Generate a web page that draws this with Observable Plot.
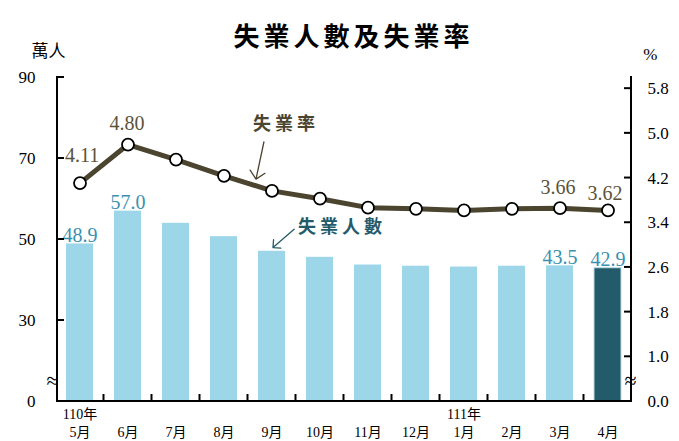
<!DOCTYPE html>
<html><head><meta charset="utf-8">
<script src="https://cdn.jsdelivr.net/npm/d3@7"></script>
<script src="https://cdn.jsdelivr.net/npm/@observablehq/plot@0.6"></script>
<style>
body{margin:0;background:#fff;}
#wrap{position:relative;width:679px;height:441px;}
#wrap svg{position:absolute;left:0;top:0;}
.spaced text{letter-spacing:4px;}
</style></head><body><div id="wrap"></div>
<script>
const months = ["5月","6月","7月","8月","9月","10月","11月","12月","1月","2月","3月","4月"];
const unemployed = [48.9,57.0,54.0,50.7,47.1,45.6,43.7,43.4,43.2,43.4,43.5,42.9];
const rate = [4.11,4.80,4.53,4.24,3.97,3.83,3.67,3.65,3.62,3.65,3.66,3.62];
const years = [{month:"5月", label:"110年"},{month:"1月", label:"111年"}];
const leftTicks = [10,30,50,70,90];
const leftTickLabels = ["0","30","50","70","90"];
const rightTicks = [0.2,1.0,1.8,2.6,3.4,4.2,5.0,5.8];
const rightTickLabels = ["0.0","1.0","1.8","2.6","3.4","4.2","5.0","5.8"];
const barLabelMonths = ["5月","6月","3月","4月"];
const title = "失業人數及失業率";

const rows = months.map((m,i)=>({month:m, unemployed:unemployed[i], rate:rate[i]}));
const last = months[months.length-1];

const FONT = '"Liberation Serif","Noto Sans CJK TC",serif';
const CJK = '"Noto Sans CJK TC",sans-serif';
const LIGHT = "#9dd6e8", DARK = "#245b6b", BARLAB = "#3b90ae";
const LINE = "#4b4530", RATELAB = "#5b5339";

const common = {
  width:679, height:441, marginLeft:57, marginRight:48, marginTop:77, marginBottom:40,
  x:{type:"band", domain:months, paddingInner:0.43, paddingOuter:0.19, axis:null},
  style:{fontFamily:FONT, fontSize:"17px", background:"transparent", overflow:"visible", color:"black"}
};

const p1 = Plot.plot({
  ...common,
  y:{domain:[10,90], axis:null},
  marks:[
    Plot.barY(rows.filter(d=>d.month!==last), {x:"month", y1:10, y2:"unemployed", fill:LIGHT}),
    Plot.barY(rows.filter(d=>d.month===last), {x:"month", y1:10, y2:"unemployed", fill:DARK, stroke:"#b9dde8", strokeWidth:1}),
    Plot.text(rows.filter(d=>barLabelMonths.includes(d.month)), {x:"month", y:"unemployed", text:d=>d.unemployed.toFixed(1), lineAnchor:"bottom", dy:-2, fill:BARLAB, fontSize:20}),
    Plot.axisY({anchor:"left", ticks:leftTicks, tickFormat:d=>leftTickLabels[leftTicks.indexOf(d)], tickSize:0, tickPadding:22, fontSize:17, label:null}),
    Plot.text(months, {x:d=>d, frameAnchor:"bottom", dy:35, fontSize:14, fontFamily:FONT}),
    Plot.text(years, {x:"month", text:"label", frameAnchor:"bottom", dy:17, fontSize:14}),
    Plot.text(["萬人"], {frameAnchor:"top-left", dx:-26, dy:-33, fontSize:17, fontFamily:CJK}),
    Plot.text([title], {frameAnchor:"top", dx:9, dy:-50, fontSize:26, fontWeight:"bold", fontFamily:CJK, className:"spaced"}),
    Plot.text(["≈"], {frameAnchor:"bottom-left", dx:-11, dy:-14, fontSize:22}),
    Plot.vector([{month:"9月", v:48}], {x:"month", y:"v", anchor:"end", length:28, rotate:229, dx:1, stroke:DARK, strokeWidth:1.3}),
    Plot.text([{month:"10月", v:53, t:"失業人數"}], {x:"month", y:"v", text:"t", dx:22, fontSize:18, fontWeight:"bold", fill:DARK, fontFamily:CJK, className:"spaced"})
  ]
});

const p2 = Plot.plot({
  ...common,
  y:{domain:[0.2,6.0], axis:null},
  marks:[
    Plot.line(rows, {x:"month", y:"rate", stroke:LINE, strokeWidth:5}),
    Plot.dot(rows, {x:"month", y:"rate", r:6, fill:"white", stroke:"black", strokeWidth:1.8}),
    Plot.text(rows.filter(d=>d.month==="5月"), {x:"month", y:"rate", text:d=>d.rate.toFixed(2), dx:2, dy:-27, fill:RATELAB, fontSize:20}),
    Plot.text(rows.filter(d=>d.month==="6月"), {x:"month", y:"rate", text:d=>d.rate.toFixed(2), dx:-1, dy:-21, fill:RATELAB, fontSize:20}),
    Plot.text(rows.filter(d=>d.month==="3月"), {x:"month", y:"rate", text:d=>d.rate.toFixed(2), dx:-2, dy:-21, fill:RATELAB, fontSize:20}),
    Plot.text(rows.filter(d=>d.month==="4月"), {x:"month", y:"rate", text:d=>d.rate.toFixed(2), dx:-3, dy:-17, fill:RATELAB, fontSize:20}),
    Plot.axisY({anchor:"right", ticks:rightTicks, tickFormat:d=>rightTickLabels[rightTicks.findIndex(t=>Math.abs(t-d)<1e-9)], tickSize:0, tickPadding:16, fontSize:17, label:null}),
    Plot.text(["%"], {frameAnchor:"top-right", dx:26, dy:-30, fontSize:17}),
    Plot.text(["≈"], {frameAnchor:"bottom-right", dx:5, dy:-14, fontSize:22}),
    Plot.vector([{month:"9月", v:4.18}], {x:"month", y:"v", anchor:"end", length:38, rotate:192, dx:-16, stroke:LINE, strokeWidth:1.3}),
    Plot.text([{month:"9月", v:5.16, t:"失業率"}], {x:"month", y:"v", text:"t", dx:14, fontSize:18, fontWeight:"bold", fill:LINE, fontFamily:CJK, className:"spaced"})
  ]
});

const wrap = document.getElementById("wrap");
wrap.appendChild(p1);
wrap.appendChild(p2);

// axis lines and inward ticks, placed with the library's own scales
const xs = p1.scale("x");
const yL = p1.scale("y");
const yR = p2.scale("y");
const x0 = xs.range[0], x1 = xs.range[1];
const yBottom = yL.apply(10), yTop = yL.apply(90);
const g = d3.select(p2).append("g").attr("stroke","black").attr("stroke-width",2).attr("fill","none").attr("stroke-linecap","square");
g.append("path").attr("d", `M${x0},${yTop}V${yBottom}H${x1}V${yTop}`);
for (const t of leftTicks) { const y = yL.apply(t); g.append("line").attr("x1",x0).attr("x2",x0+6).attr("y1",y).attr("y2",y); }
for (const t of rightTicks) { const y = yR.apply(t); g.append("line").attr("x1",x1).attr("x2",x1-6).attr("y1",y).attr("y2",y); }
for (let i=0;i<months.length-1;i++){
  const x = (xs.apply(months[i]) + xs.bandwidth + xs.apply(months[i+1]))/2;
  g.append("line").attr("x1",x).attr("x2",x).attr("y1",yBottom).attr("y2",yBottom-6);
}
</script></body></html>
